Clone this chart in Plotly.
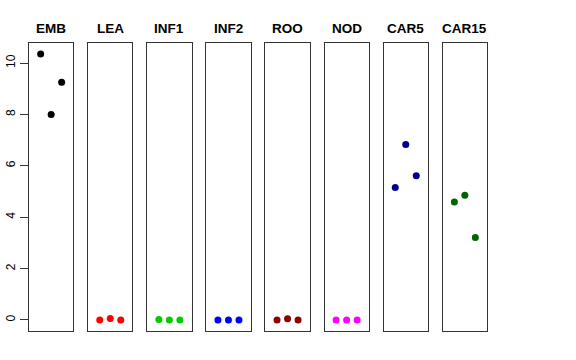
import plotly.graph_objects as go

categories = ["EMB", "LEA", "INF1", "INF2", "ROO", "NOD", "CAR5", "CAR15"]
colors = ["#000000", "#FF0000", "#00CD00", "#0000FF", "#8B0000", "#FF00FF", "#00008B", "#006400"]
emb = [10.35, 8.0, 9.25]
lea = [0.0, 0.06, 0.0]
inf1 = [0.02, 0.0, 0.0]
inf2 = [0.0, 0.0, 0.0]
roo = [0.0, 0.05, 0.0]
nod = [0.0, 0.0, 0.0]
car5 = [5.16, 6.83, 5.61]
car15 = [4.59, 4.85, 3.21]
series = [emb, lea, inf1, inf2, roo, nod, car5, car15]
reps = [1, 2, 3]
yticks = [0, 2, 4, 6, 8, 10]

W, H = 576, 360
left, right, top, bottom = 29, 488, 43, 331
pw = right - left
panel_w = 44.3
step = 59.1

fig = go.Figure()
annotations = []
for i, (cat, col, vals) in enumerate(zip(categories, colors, series)):
    n = "" if i == 0 else str(i + 1)
    d0 = (i * step) / pw
    d1 = (i * step + panel_w) / pw
    fig.add_trace(go.Scatter(x=reps, y=vals, mode="markers",
                             marker=dict(color=col, size=7, line=dict(width=0)),
                             xaxis="x" + n, yaxis="y" + n, showlegend=False,
                             hoverinfo="y"))
    fig.layout["xaxis" + n] = dict(domain=[max(0, d0), min(1, d1)], range=[-0.11, 4.11],
                                   showgrid=False, zeroline=False, showticklabels=False,
                                   ticks="", showline=True, mirror=True, automargin=False,
                                   linecolor="#333333", linewidth=1,
                                   anchor="y" + n)
    ya = dict(range=[-0.43, 10.78], showgrid=False, zeroline=False, automargin=False,
              showline=True, mirror=True, linecolor="#333333", linewidth=1,
              anchor="x" + n)
    if i == 0:
        ya.update(tickvals=yticks, ticktext=[str(v) for v in yticks], ticks="outside",
                  ticklen=8, tickcolor="#333333", tickangle=-90,
                  tickfont=dict(size=12, color="#000000", family="Liberation Sans, Arial, sans-serif"))
    else:
        ya.update(showticklabels=False, ticks="")
    fig.layout["yaxis" + n] = ya
    annotations.append(dict(text="<b>" + cat + "</b>", x=(d0 + d1) / 2, y=1, xref="paper",
                            yref="paper", yshift=5, yanchor="bottom", xanchor="center",
                            showarrow=False,
                            font=dict(size=13.5, color="#000000",
                                      family="Liberation Sans, Arial, sans-serif")))

fig.update_layout(width=W, height=H, margin=dict(l=left, r=W - right, t=top, b=H - bottom,
                                                 autoexpand=False),
                  paper_bgcolor="white", plot_bgcolor="white", annotations=annotations,
                  font=dict(family="Liberation Sans, Arial, sans-serif"))
fig.write_html("out.html", config={"displayModeBar": False},
               post_script="document.body.style.margin='0';")
